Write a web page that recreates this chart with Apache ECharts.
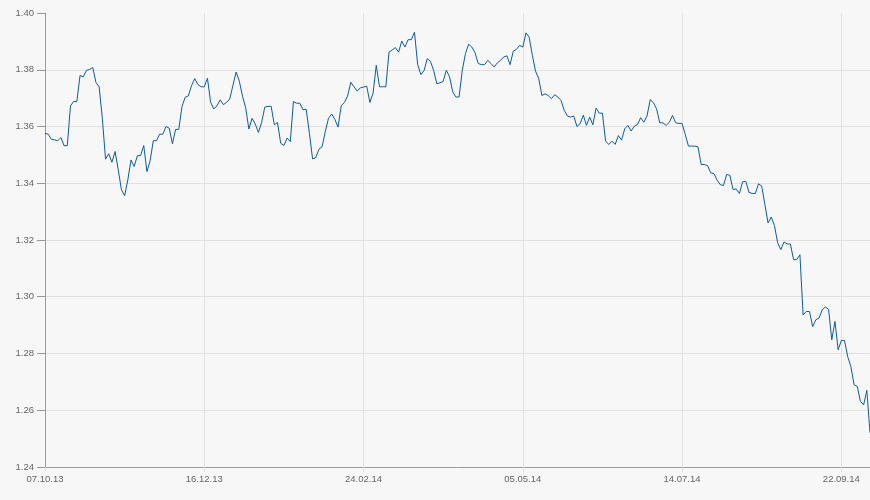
<!DOCTYPE html>
<html>
<head>
<meta charset="utf-8">
<script src="https://cdn.jsdelivr.net/npm/echarts@6/dist/echarts.min.js"></script>
<style>
  html, body { margin: 0; padding: 0; background: #f7f7f7; }
  #chart { width: 870px; height: 500px; }
</style>
</head>
<body>
<div id="chart"></div>
<script>
// First trading day (weekday series)
const startDate = '2013-10-07';

// EUR/USD closing values (one per weekday)
const values = [
  1.3576, 1.3573, 1.3555, 1.3553, 1.3550, 1.3561, 1.3532, 1.3533, 1.3673, 1.3688,
  1.3688, 1.3780, 1.3775, 1.3798, 1.3801, 1.3808, 1.3755, 1.3740, 1.3629, 1.3485,
  1.3504, 1.3474, 1.3512, 1.3447, 1.3377, 1.3356, 1.3412, 1.3482, 1.3459, 1.3497,
  1.3497, 1.3533, 1.3441, 1.3479, 1.3550, 1.3550, 1.3573, 1.3573, 1.3600, 1.3594,
  1.3539, 1.3590, 1.3590, 1.3670, 1.3703, 1.3708, 1.3744, 1.3769, 1.3748, 1.3740,
  1.3740, 1.3770, 1.3685, 1.3662, 1.3673, 1.3694, 1.3677, 1.3685, 1.3697, 1.3745,
  1.3792, 1.3760, 1.3707, 1.3666, 1.3591, 1.3629, 1.3609, 1.3579, 1.3614, 1.3668,
  1.3671, 1.3671, 1.3606, 1.3614, 1.3541, 1.3533, 1.3559, 1.3547, 1.3688, 1.3682,
  1.3682, 1.3659, 1.3661, 1.3576, 1.3486, 1.3490, 1.3520, 1.3529, 1.3582, 1.3629,
  1.3644, 1.3625, 1.3598, 1.3673, 1.3685, 1.3707, 1.3756, 1.3740, 1.3725, 1.3736,
  1.3739, 1.3742, 1.3685, 1.3718, 1.3816, 1.3740, 1.3740, 1.3740, 1.3862, 1.3870,
  1.3878, 1.3862, 1.3901, 1.3880, 1.3906, 1.3906, 1.3932, 1.3818, 1.3783, 1.3797,
  1.3839, 1.3830, 1.3798, 1.3751, 1.3754, 1.3759, 1.3798, 1.3775, 1.3722, 1.3704,
  1.3704, 1.3798, 1.3857, 1.3890, 1.3880, 1.3860, 1.3822, 1.3818, 1.3818, 1.3833,
  1.3822, 1.3810, 1.3824, 1.3833, 1.3845, 1.3849, 1.3818, 1.3865, 1.3872, 1.3886,
  1.3880, 1.3930, 1.3915, 1.3851, 1.3795, 1.3769, 1.3709, 1.3715, 1.3709, 1.3698,
  1.3712, 1.3704, 1.3692, 1.3657, 1.3637, 1.3633, 1.3637, 1.3600, 1.3610, 1.3640,
  1.3604, 1.3633, 1.3606, 1.3665, 1.3647, 1.3647, 1.3548, 1.3537, 1.3548, 1.3537,
  1.3568, 1.3552, 1.3592, 1.3604, 1.3584, 1.3601, 1.3607, 1.3631, 1.3615, 1.3637,
  1.3695, 1.3684, 1.3662, 1.3613, 1.3613, 1.3604, 1.3615, 1.3639, 1.3613, 1.3611,
  1.3611, 1.3572, 1.3531, 1.3531, 1.3531, 1.3528, 1.3466, 1.3466, 1.3462, 1.3437,
  1.3434, 1.3411, 1.3395, 1.3392, 1.3431, 1.3428, 1.3378, 1.3380, 1.3364, 1.3405,
  1.3407, 1.3368, 1.3364, 1.3364, 1.3398, 1.3390, 1.3325, 1.3260, 1.3281, 1.3251,
  1.3190, 1.3166, 1.3193, 1.3186, 1.3186, 1.3131, 1.3131, 1.3148, 1.2936, 1.2948,
  1.2948, 1.2895, 1.2919, 1.2925, 1.2954, 1.2964, 1.2956, 1.2848, 1.2913, 1.2813,
  1.2846, 1.2846, 1.2789, 1.2754, 1.2690, 1.2684, 1.2631, 1.2619, 1.2670, 1.2521
];

// Y axis tick settings
const yMin = 1.24;
const yMax = 1.40;
const yStep = 0.02;
const xLabelEvery = 50;

// Build weekday category labels (dd.mm.yy)
function pad(n) { return (n < 10 ? '0' : '') + n; }
const categories = [];
(function () {
  const d = new Date(startDate + 'T12:00:00Z');
  while (categories.length < values.length) {
    const wd = d.getUTCDay();
    if (wd !== 0 && wd !== 6) {
      categories.push(pad(d.getUTCDate()) + '.' + pad(d.getUTCMonth() + 1) + '.' + String(d.getUTCFullYear()).slice(2));
    }
    d.setUTCDate(d.getUTCDate() + 1);
  }
})();

const chart = echarts.init(document.getElementById('chart'), null, { renderer: 'canvas' });
const gridColor = '#e1e1e1';
const nY = Math.round((yMax - yMin) / yStep) + 1;
const splitColors = [];
for (let i = 0; i < nY; i++) splitColors.push(i === nY - 1 ? 'rgba(0,0,0,0)' : gridColor);

chart.setOption({
  backgroundColor: '#f7f7f7',
  animation: false,
  grid: { left: 45, right: 0, top: 13, bottom: 33, containLabel: false },
  textStyle: { fontFamily: 'Liberation Sans, Arial, sans-serif' },
  xAxis: {
    type: 'category',
    data: categories,
    boundaryGap: false,
    axisLine: { show: true, lineStyle: { color: '#999999', width: 1 } },
    axisTick: { show: true, interval: xLabelEvery - 1, length: 5, lineStyle: { color: '#dddddd' } },
    axisLabel: { interval: xLabelEvery - 1, color: '#666666', fontSize: 9.5, margin: 7 },
    splitLine: { show: true, interval: xLabelEvery - 1, lineStyle: { color: gridColor, width: 1 } }
  },
  yAxis: {
    type: 'value',
    min: yMin,
    max: yMax,
    interval: yStep,
    axisLine: { show: true, lineStyle: { color: '#999999', width: 1 } },
    axisTick: { show: true, length: 8, lineStyle: { color: '#999999' } },
    axisLabel: { color: '#666666', fontSize: 9.5, margin: 11, formatter: v => v.toFixed(2) },
    splitLine: { show: true, lineStyle: { color: splitColors, width: 1 } }
  },
  series: [{
    type: 'line',
    data: values,
    showSymbol: false,
    symbol: 'none',
    lineStyle: { color: '#0d5ba3', width: 1 },
    itemStyle: { color: '#0d5ba3' }
  }]
});
</script>
</body>
</html>
